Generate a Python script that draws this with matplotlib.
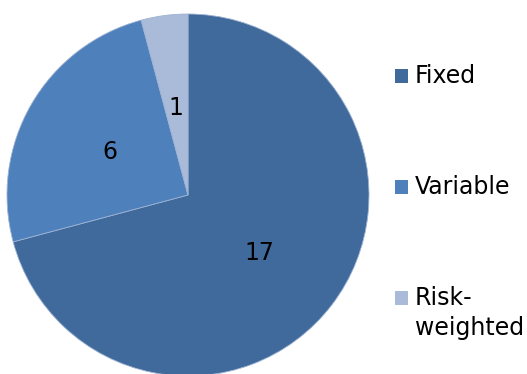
import matplotlib.pyplot as plt
from matplotlib.patches import Rectangle

# rate types and counts
labels = ['Fixed', 'Variable', 'Risk-\nweighted']
counts = [17, 6, 1]
colors = ['#416A9C', '#4E80BC', '#AABBD9']

W, H = 527, 374
fig = plt.figure(figsize=(W / 100, H / 100), dpi=100)
ax = fig.add_axes([0, 0, 1, 1])

total = sum(counts)
wedges, texts, autotexts = ax.pie(
    counts, colors=colors, startangle=90, counterclock=False,
    center=(188, 179), radius=181, pctdistance=0.5,
    autopct=lambda p: f'{round(p * total / 100)}',
    textprops={'fontsize': 17, 'color': 'black'},
    wedgeprops={'linewidth': 0.6, 'edgecolor': '#9DB3D3'})
for t in autotexts:
    t.set_va('center_baseline')
ax.set_xlim(0, W)
ax.set_ylim(0, H)
ax.axis('off')

# legend on the right, drawn by hand
legend_y = [83, 194, 305]  # baselines in pixels from top
line_gap = 30
for lab, c, y in zip(labels, colors, legend_y):
    fig.patches.append(Rectangle((395 / W, 1 - y / H), 13 / W, 14 / H,
                                 transform=fig.transFigure, facecolor=c,
                                 edgecolor='none'))
    for i, line in enumerate(lab.split('\n')):
        fig.text(415 / W, 1 - (y + i * line_gap) / H, line, fontsize=17,
                 va='baseline', ha='left')

fig.savefig('out.png', dpi=100)
